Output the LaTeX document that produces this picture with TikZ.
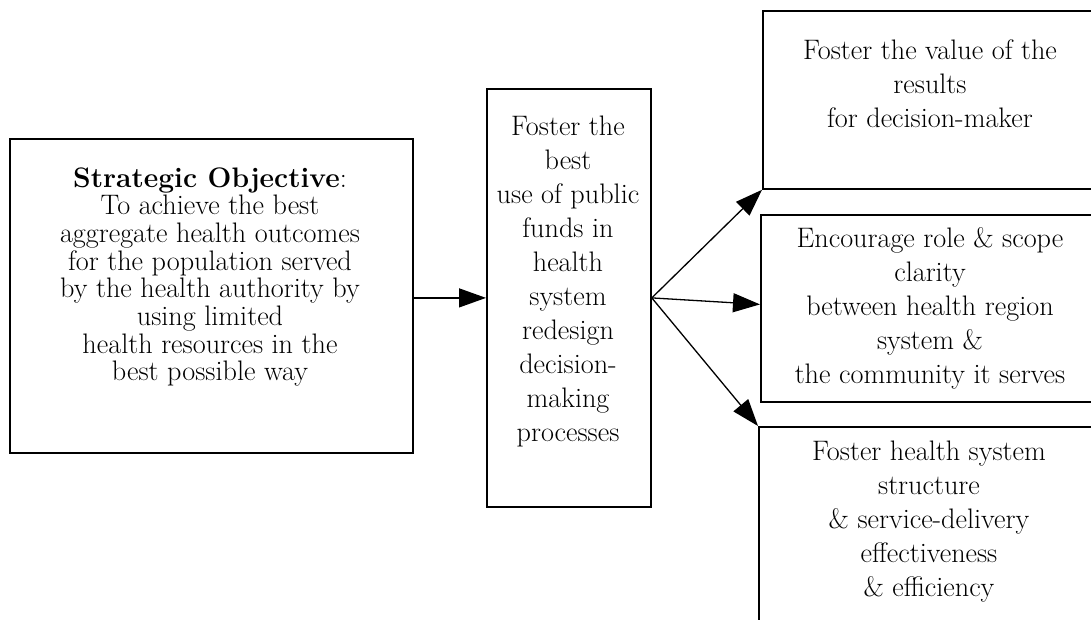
\documentclass[tikz,border=0pt]{standalone}
\usepackage{fontspec}
\usetikzlibrary{arrows.meta,calc}
\newcommand\wideline{\fontsize{28.2}{34}\selectfont\lineskiplimit=-20pt\relax}
\newcommand\tightline{\fontsize{28.2}{27.7}\selectfont\lineskiplimit=-20pt\relax}
\begin{document}
\begin{tikzpicture}[x=1pt,y=-1pt,
  boxstyle/.style={draw=black,line width=1.8pt,rectangle,inner sep=0pt,anchor=north west},
  txt/.style={align=center,inner sep=0pt,font=\wideline},
  arr/.style={line width=1.3pt,-{Triangle[length=27pt,width=19pt]}}]
\useasboundingbox (0,0) rectangle (1091,620);
\clip (0,0) rectangle (1091,620);
\fill[white] (0,0) rectangle (1091,620);
% boxes
\node[boxstyle,minimum width=403pt,minimum height=314pt] (left) at (9,138) {};
\node[boxstyle,minimum width=164pt,minimum height=418pt] (mid) at (486,88) {};
\node[boxstyle,minimum width=340pt,minimum height=178pt] (tr) at (762,10) {};
\node[boxstyle,minimum width=340pt,minimum height=187pt] (mr) at (760,214) {};
\node[boxstyle,minimum width=344pt,minimum height=220pt] (br) at (758,426) {};
% texts
\node[txt,font=\tightline] (lefttxt) at (210,277) {\textbf{Strategic Objective}:\\To achieve the best\\aggregate health outcomes\\for the population served\\by the health authority by\\using limited\\health resources in the\\best possible way};
\node[txt] (midtxt) at (568,281.5) {Foster the\\best\\use of public\\funds in\\health\\system\\redesign\\decision-\\making\\processes};
\node[txt] (trtxt) at (930,84) {Foster the value of the\\results\\for decision-maker};
\node[txt] (mrtxt) at (930,308) {Encourage role \& scope\\clarity\\between health region\\system \&\\the community it serves};
\node[txt] (brtxt) at (929,521.5) {Foster health system\\structure\\\& service-delivery\\effectiveness\\\& efficiency};
% arrows
\draw[arr] (mid.west -| left.east) -- (mid.west);
\draw[arr] (mid.east) -- (tr.south west);
\draw[arr] (mid.east) -- ($(mr.west)+(0,-4)$);
\draw[arr] (mid.east) -- (br.north west);
\end{tikzpicture}
\end{document}
